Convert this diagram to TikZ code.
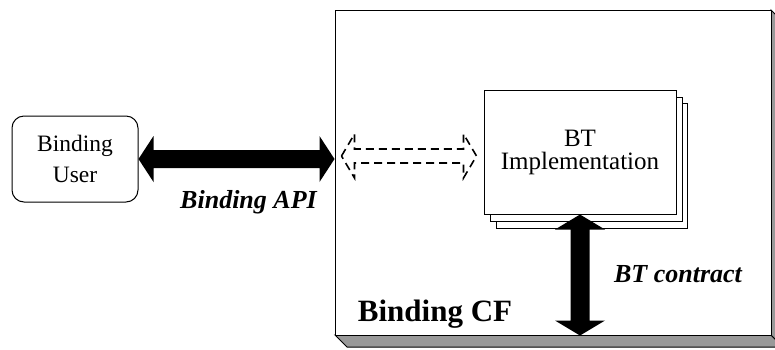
\documentclass[tikz,border=0pt]{standalone}
\usepackage{fontspec}
\setmainfont{LiberationSerif}[
  Extension=.ttf,
  UprightFont=*-Regular,
  BoldFont=*-Bold,
  ItalicFont=*-Italic,
  BoldItalicFont=*-BoldItalic]
\usetikzlibrary{calc}

% double-headed block arrows: tips #2 and #3, head length #4, head half-width #5, shaft half-width #6
\newcommand\hdarrow[6][]{%
  \path[#1] (#2) -- ($(#2)+(#4,-#5)$) -- ($(#2)+(#4,-#6)$) -- ($(#3)+(-#4,-#6)$) -- ($(#3)+(-#4,-#5)$)
    -- (#3) -- ($(#3)+(-#4,#5)$) -- ($(#3)+(-#4,#6)$) -- ($(#2)+(#4,#6)$) -- ($(#2)+(#4,#5)$) -- cycle;}
\newcommand\vdarrow[6][]{%
  \path[#1] (#2) -- ($(#2)+(#5,#4)$) -- ($(#2)+(#6,#4)$) -- ($(#3)+(#6,-#4)$) -- ($(#3)+(#5,-#4)$)
    -- (#3) -- ($(#3)+(-#5,-#4)$) -- ($(#3)+(-#6,-#4)$) -- ($(#2)+(-#6,#4)$) -- ($(#2)+(-#5,#4)$) -- cycle;}

\definecolor{bevel}{gray}{0.6}

\tikzset{
  box/.style={draw=black, line width=1pt, fill=white, inner sep=0pt},
  solidarrow/.style={fill=black},
  hollowarrow/.style={draw=black, line width=1.6pt, dash pattern=on 8pt off 5pt, line join=miter},
  labeltext/.style={font=\fontsize{26}{28}\selectfont\bfseries\itshape, anchor=base, inner sep=0pt},
}

\begin{document}
\begin{tikzpicture}[x=1pt, y=-1pt]
\useasboundingbox (0,0) rectangle (775,349);
\clip (0,0) rectangle (775,349);

% framework block with its bevelled bottom and right faces
\fill[white] (0,0) rectangle (775,349);
\draw[fill=bevel, line width=1pt] (335,335) -- (771,335) -- (783,347) -- (347,347) -- cycle;
\draw[fill=bevel, line width=1pt] (771,10) -- (783,22) -- (783,347) -- (771,335) -- cycle;
\node[box, minimum width=436pt, minimum height=325pt] (cf) at (553,172.5) {};
\node[labeltext, font=\fontsize{31}{33}\selectfont\bfseries] (cflabel) at (435,321) {Binding CF};

% client block
\node[box, rounded corners=12pt, minimum width=126pt, minimum height=86pt, align=center,
      font=\fontsize{23.5}{31}\selectfont] (user) at (75,159) {Binding\\User};

% stacked implementation blocks
\draw[box] (496,103) rectangle (687,228);
\draw[box] (490,97) rectangle (682,221);
\node[box, minimum width=192pt, minimum height=124pt, align=center,
      font=\fontsize{25}{24}\selectfont] (impl) at (580,152) {BT\\[-1pt]Implementation};

% API link between client and framework
\coordinate (apiL) at (user.east);
\coordinate (apiR) at (cf.west |- user.east);
\hdarrow[solidarrow]{apiL}{apiR}{15}{23}{9}
\node[labeltext] (apilabel) at (248.5,208) {Binding API};

% internal (dashed) link from the framework edge to the implementation
\coordinate (intL) at ($(cf.west |- impl.west)+(7,4)$);
\coordinate (intR) at ($(impl.west)+(-7,4)$);
\hdarrow[hollowarrow]{intL}{intR}{13}{22}{7}

% contract link from the implementation down to the framework base
\coordinate (ctrT) at (impl.south);
\coordinate (ctrB) at (impl.south |- cf.south);
\vdarrow[solidarrow]{ctrT}{ctrB}{15}{25}{9.5}
\node[labeltext] (ctrlabel) at (678,282) {BT contract};
\end{tikzpicture}
\end{document}
